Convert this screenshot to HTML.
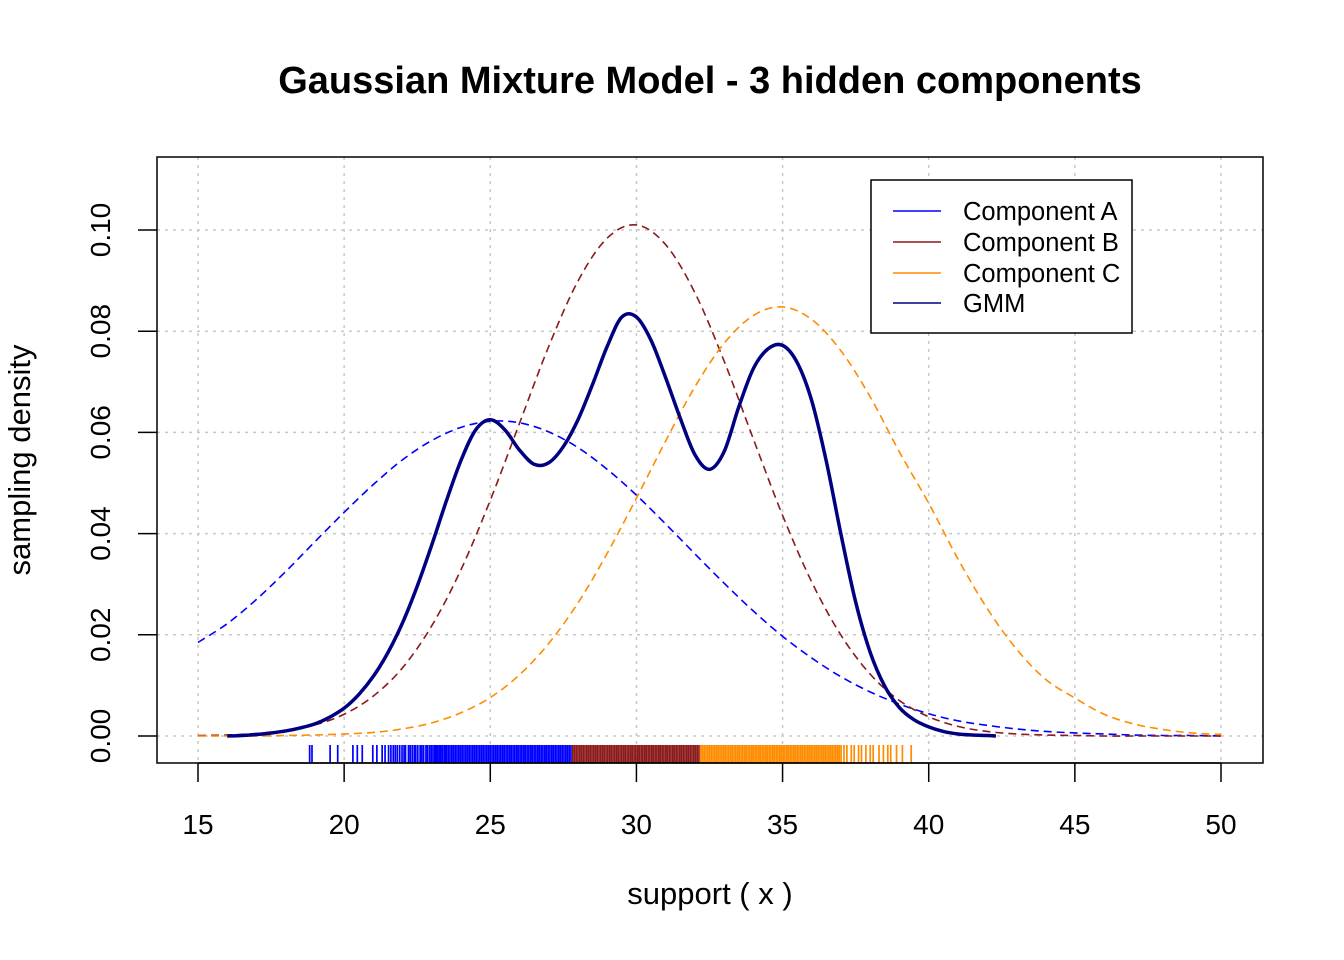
<!DOCTYPE html>
<html><head><meta charset="utf-8"><style>
body{margin:0;background:#fff;}
svg{display:block;font-family:"Liberation Sans",Arial,sans-serif;}
</style></head><body>
<svg id="chart" width="1344" height="960" viewBox="0 0 1344 960" xmlns="http://www.w3.org/2000/svg">
<rect width="1344" height="960" fill="#fff"/>
<text x="710" y="93" text-anchor="middle" font-size="38" font-weight="bold">Gaussian Mixture Model - 3 hidden components</text>
<text x="710" y="904" text-anchor="middle" font-size="31">support ( x )</text>
<text transform="translate(30,460) rotate(-90)" text-anchor="middle" font-size="31">sampling density</text>
<g id="grid"></g>
<g id="series"></g>
<g id="rug"></g>
<rect x="157" y="157" width="1106" height="606" fill="none" stroke="#000" stroke-width="1.5"/>
<g id="axes"></g>
<g>
<rect x="871" y="180" width="261" height="153" fill="#fff" stroke="#000" stroke-width="1.5"/>
<g><line x1="893" y1="211" x2="941" y2="211" stroke="#0000ff" stroke-width="1.5"/><text x="963" y="220" font-size="25.5">Component A</text></g>
<g><line x1="893" y1="242" x2="941" y2="242" stroke="#8b1a1a" stroke-width="1.5"/><text x="963" y="251" font-size="25.5">Component B</text></g>
<g><line x1="893" y1="273" x2="941" y2="273" stroke="#ff8c00" stroke-width="1.5"/><text x="963" y="282" font-size="25.5">Component C</text></g>
<g><line x1="893" y1="303" x2="941" y2="303" stroke="#000080" stroke-width="1.5"/><text x="963" y="312" font-size="25.5">GMM</text></g>
</g>
</svg>
<script>
const xTicks = [15,20,25,30,35,40,45,50];
const yTicks = [0,0.02,0.04,0.06,0.08,0.10];
const yTickLabels = ["0.00","0.02","0.04","0.06","0.08","0.10"];
const compX = [15,16,17,18,19,20,21,22,23,24,25,26,27,28,29,30,31,32,33,34,35,36,37,38,39,40,41,42,43,44,45,46,47,48,49,50];
const compA = [0.0185,0.0222,0.0270,0.0325,0.0384,0.0442,0.0497,0.0546,0.0584,0.0610,0.0622,0.0619,0.0601,0.0570,0.0527,0.0476,0.0419,0.0360,0.0302,0.0247,0.0197,0.0154,0.0117,0.0087,0.0063,0.0044,0.0030,0.0021,0.0014,0.0009,0.0006,0.0004,0.0002,0.0001,0.0001,0.0000];
const compB = [0.0001,0.0002,0.0005,0.0011,0.0022,0.0043,0.0079,0.0135,0.0218,0.0329,0.0466,0.0618,0.0770,0.0899,0.0984,0.1010,0.0971,0.0876,0.0741,0.0587,0.0436,0.0304,0.0199,0.0122,0.0070,0.0038,0.0019,0.0009,0.0004,0.0002,0.0001,0,0,0,0,0];
const compC = [0,0,0,0.0001,0.0002,0.0004,0.0007,0.0014,0.0026,0.0046,0.0076,0.0121,0.0183,0.0263,0.0361,0.0470,0.0583,0.0690,0.0776,0.0831,0.0848,0.0823,0.0761,0.0670,0.0561,0.0460,0.0350,0.0252,0.0172,0.0112,0.0075,0.0043,0.0024,0.0013,0.0006,0.0003];
const gmmX = [16,16.5,17,17.5,18,18.5,19,19.5,20,20.5,21,21.5,22,22.5,23,23.5,24,24.5,25,25.5,26,26.5,27,27.5,28,28.5,29,29.5,30,30.5,31,31.5,32,32.5,33,33.5,34,34.5,35,35.5,36,36.5,37,37.5,38,38.5,39,39.5,40,40.5,41,41.5,42,42.3];
const gmmY = [0.0000,0.0001,0.0003,0.0006,0.0010,0.0016,0.0024,0.0037,0.0055,0.0082,0.0118,0.0165,0.0224,0.0296,0.0378,0.0465,0.0545,0.0605,0.0625,0.0605,0.0565,0.0537,0.0540,0.0572,0.0625,0.0695,0.0770,0.0828,0.0828,0.0782,0.0708,0.0628,0.0556,0.0527,0.0562,0.0650,0.0726,0.0765,0.0772,0.0738,0.0662,0.0542,0.0398,0.0265,0.0165,0.0098,0.0056,0.0032,0.0018,0.0009,0.0004,0.0002,0.0001,0.0000];
const rugA = [18.82,18.9,19.52,19.78,20.3,20.45,20.62,20.98,21.12,21.3,21.4,21.52,21.6,21.68,21.75,21.82,21.9,21.98,22.05,22.1,22.2,22.26,22.33,22.4,22.45,22.52,22.6,22.66,22.72,22.8,22.85,22.92,22.98,23.04,23.1,23.15,23.2,23.26,23.3,23.36,23.42,23.46,23.5,23.56,23.62,23.68,23.74,23.8,23.86,23.92,23.98,24.04,24.1,24.16,24.22,24.28,24.34,24.4,24.46,24.52,24.58,24.64,24.7,24.76,24.82,24.88,24.94,25,25.06,25.12,25.18,25.24,25.3,25.36,25.42,25.48,25.54,25.6,25.66,25.72,25.78,25.84,25.9,25.96,26.02,26.08,26.14,26.2,26.26,26.32,26.38,26.44,26.5,26.56,26.62,26.68,26.74,26.8,26.86,26.92,26.98,27.04,27.1,27.16,27.22,27.28,27.34,27.4,27.46,27.52,27.58,27.64,27.7,27.76];
const rugB = [27.82,27.88,27.94,28,28.06,28.12,28.18,28.24,28.3,28.36,28.42,28.48,28.54,28.6,28.66,28.72,28.78,28.84,28.9,28.96,29.02,29.08,29.14,29.2,29.26,29.32,29.38,29.44,29.5,29.56,29.62,29.68,29.74,29.8,29.86,29.92,29.98,30.04,30.1,30.16,30.22,30.28,30.34,30.4,30.46,30.52,30.58,30.64,30.7,30.76,30.82,30.88,30.94,31,31.06,31.12,31.18,31.24,31.3,31.36,31.42,31.48,31.54,31.6,31.66,31.72,31.78,31.84,31.9,31.96,32.02,32.08,32.14];
const rugC = [32.2,32.26,32.32,32.38,32.44,32.5,32.56,32.62,32.68,32.74,32.8,32.86,32.92,32.98,33.04,33.1,33.16,33.22,33.28,33.34,33.4,33.46,33.52,33.58,33.64,33.7,33.76,33.82,33.88,33.94,34,34.06,34.12,34.18,34.24,34.3,34.36,34.42,34.48,34.54,34.6,34.66,34.72,34.78,34.84,34.9,34.96,35.02,35.08,35.14,35.2,35.26,35.32,35.38,35.44,35.5,35.56,35.62,35.68,35.74,35.8,35.86,35.92,35.98,36.04,36.1,36.16,36.22,36.28,36.34,36.4,36.46,36.52,36.58,36.64,36.7,36.76,36.82,36.88,36.94,37.0,37.1,37.2,37.35,37.45,37.6,37.7,37.85,38.0,38.1,38.3,38.45,38.6,38.7,38.9,39.1,39.4];

const NS = "http://www.w3.org/2000/svg";
const PL = 157, PR = 1263, PT = 157, PB = 763;
function sx(v){ return 198 + (v - 15) * (1221 - 198) / 35; }
function sy(v){ return 736 - v * (736 - 230) / 0.10; }
function mk(tag, attrs, parent){ const e = document.createElementNS(NS, tag); for (const k in attrs) e.setAttribute(k, attrs[k]); parent.appendChild(e); return e; }

const grid = document.getElementById('grid');
const axes = document.getElementById('axes');
xTicks.forEach(t => {
  const g = mk('line', {x1:sx(t), x2:sx(t), y1:PT, y2:PB, stroke:'#c8c8c8', 'stroke-width':1.5, 'stroke-dasharray':'3 5'}, grid);
  
  
  const tk = mk('line', {x1:sx(t), x2:sx(t), y1:PB, y2:PB+19, stroke:'#000', 'stroke-width':1.5}, axes);
  
  
  const tx = mk('text', {x:sx(t), y:834, 'text-anchor':'middle', 'font-size':28}, axes);
  tx.textContent = t;
  
  
});
mk('line', {x1:sx(15), x2:sx(50), y1:PB, y2:PB, stroke:'#000', 'stroke-width':1.5}, axes);
yTicks.forEach((t, i) => {
  const g = mk('line', {x1:PL, x2:PR, y1:sy(t), y2:sy(t), stroke:'#c8c8c8', 'stroke-width':1.5, 'stroke-dasharray':'3 5'}, grid);
  
  
  const tk = mk('line', {x1:PL-19, x2:PL, y1:sy(t), y2:sy(t), stroke:'#000', 'stroke-width':1.5}, axes);
  
  
  const tx = mk('text', {transform:'translate(110,' + sy(t) + ') rotate(-90)', 'text-anchor':'middle', 'font-size':28}, axes);
  tx.textContent = yTickLabels[i];
  
  
});

function smoothPath(xs, ys){
  const p = xs.map((x, i) => [sx(x), sy(ys[i])]);
  let d = 'M' + p[0][0].toFixed(2) + ',' + p[0][1].toFixed(2);
  for (let i = 0; i < p.length - 1; i++){
    const p0 = p[Math.max(0, i-1)], p1 = p[i], p2 = p[i+1], p3 = p[Math.min(p.length-1, i+2)];
    const c1x = p1[0] + (p2[0]-p0[0])/6, c1y = p1[1] + (p2[1]-p0[1])/6;
    const c2x = p2[0] - (p3[0]-p1[0])/6, c2y = p2[1] - (p3[1]-p1[1])/6;
    d += 'C' + c1x.toFixed(2) + ',' + c1y.toFixed(2) + ' ' + c2x.toFixed(2) + ',' + c2y.toFixed(2) + ' ' + p2[0].toFixed(2) + ',' + p2[1].toFixed(2);
  }
  return d;
}
const series = document.getElementById('series');
const ca = mk('path', {d:smoothPath(compX, compA), fill:'none', stroke:'#0000ff', 'stroke-width':1.6, 'stroke-dasharray':'8 5'}, series);


const cb = mk('path', {d:smoothPath(compX, compB), fill:'none', stroke:'#8b1a1a', 'stroke-width':1.6, 'stroke-dasharray':'8 5'}, series);


const cc = mk('path', {d:smoothPath(compX, compC), fill:'none', stroke:'#ff8c00', 'stroke-width':1.6, 'stroke-dasharray':'8 5'}, series);


const gm = mk('path', {d:smoothPath(gmmX, gmmY), fill:'none', stroke:'#000080', 'stroke-width':3.5, 'stroke-linejoin':'round'}, series);



const rug = document.getElementById('rug');
[[rugA,'#0000ff','rug-tick-a'],[rugB,'#8b1a1a','rug-tick-b'],[rugC,'#ff8c00','rug-tick-c']].forEach(([arr, col, nm]) => {
  arr.forEach(v => {
    const l = mk('line', {x1:sx(v), x2:sx(v), y1:745, y2:763, stroke:col, 'stroke-width':1.7}, rug);
    
    
  });
});
</script>
</body></html>
